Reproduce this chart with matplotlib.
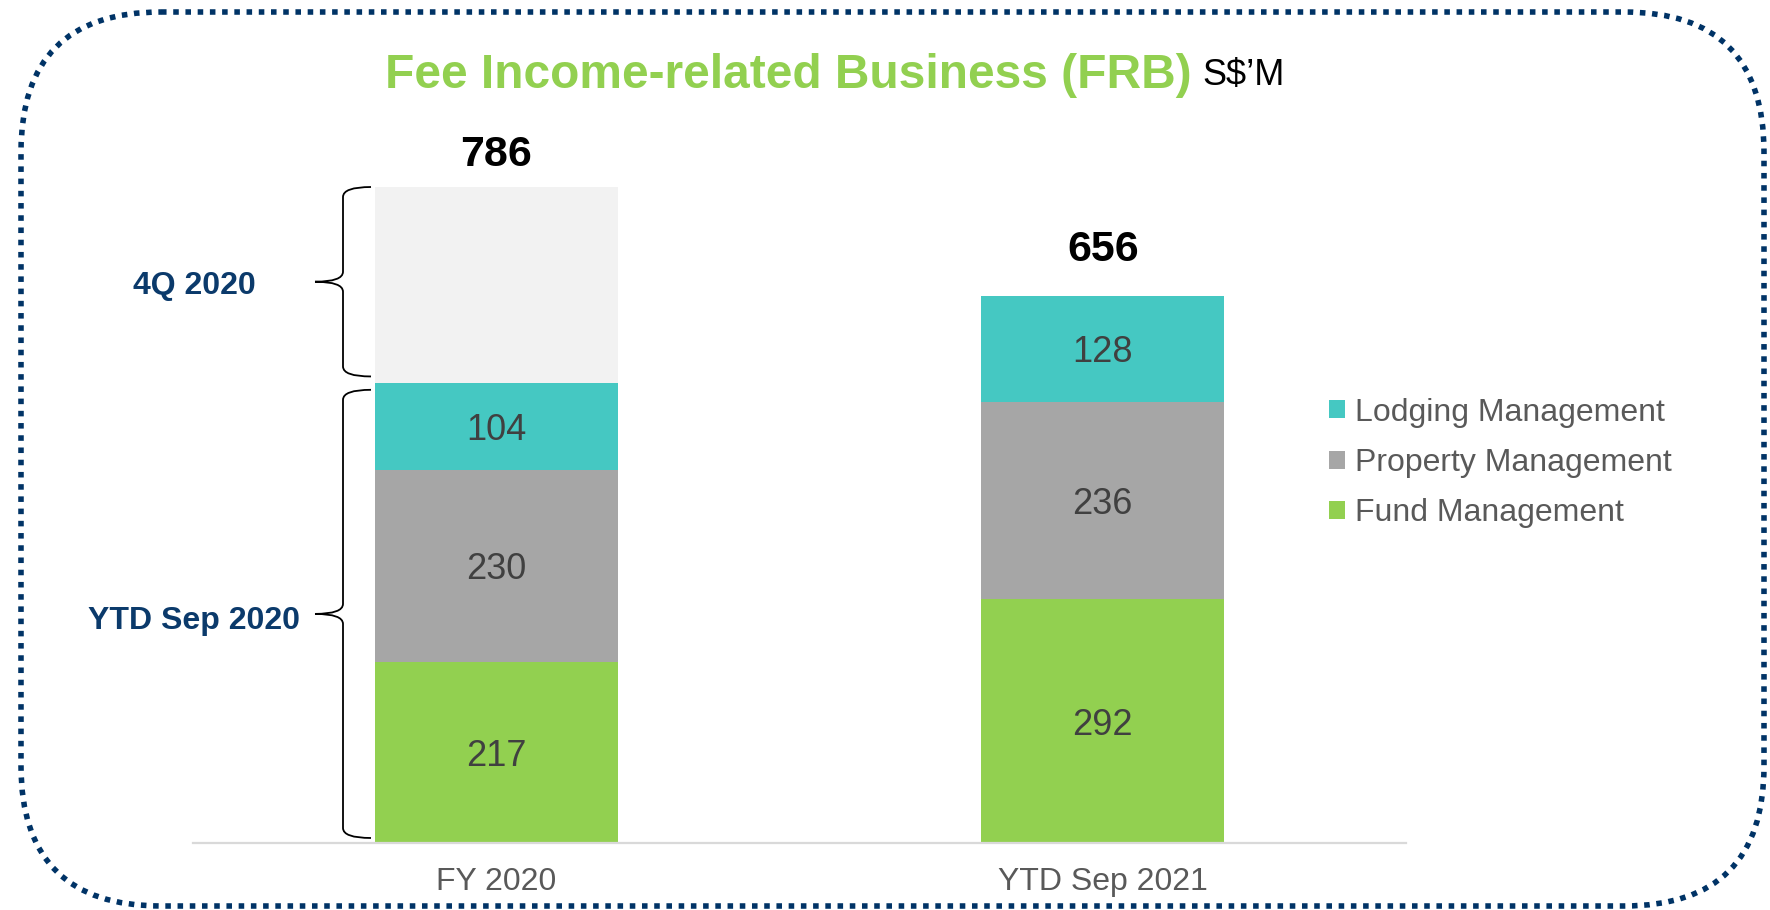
import matplotlib.pyplot as plt
from matplotlib.patches import FancyBboxPatch, Patch
from matplotlib.path import Path
from matplotlib.patches import PathPatch

plt.rcParams['font.family'] = ['Liberation Sans', 'DejaVu Sans']

# data
categories = ['FY 2020', 'YTD Sep 2021']
fund = [217, 292]
prop = [230, 236]
lodging = [104, 128]
q4_2020 = [235, 0]
totals = [786, 656]

c_fund = '#92D050'
c_prop = '#A6A6A6'
c_lodg = '#45C8C2'
c_q4 = '#F2F2F2'
navy = '#0B3A6B'

W, H = 1770, 910
fig = plt.figure(figsize=(W / 100, H / 100), dpi=100)

# background axes in pixel coords (y down)
bg = fig.add_axes([0, 0, 1, 1])
bg.set_xlim(0, W)
bg.set_ylim(H, 0)
bg.axis('off')

border = FancyBboxPatch((21, 12), 1743, 894, boxstyle='round,pad=0,rounding_size=140',
                        fill=False, edgecolor='#003366', linewidth=4.0,
                        linestyle=(0, (1, 1.2)))
bg.add_patch(border)

bg.text(1192, 88, 'Fee Income-related Business (FRB)', color=c_fund, fontsize=34.5,
        fontweight='bold', ha='right', va='baseline')
bg.text(1202, 85, 'S$\u2019M', color='black', fontsize=26, ha='left', va='baseline')

# bar axes
x0_px, x1_px = 193, 1406
base_px = 843
ymax = 900
px_per_unit = 0.8346
ax = fig.add_axes([x0_px / W, (H - base_px) / H, (x1_px - x0_px) / W, ymax * px_per_unit / H])
ax.patch.set_alpha(0)
ax.set_xlim(-0.5, 1.5)
ax.set_ylim(0, ymax)

x = [0, 1]
w = 0.4
ax.bar(x, fund, w, color=c_fund, label='Fund Management')
b1 = [f for f in fund]
ax.bar(x, prop, w, bottom=b1, color=c_prop, label='Property Management')
b2 = [f + p for f, p in zip(fund, prop)]
ax.bar(x, lodging, w, bottom=b2, color=c_lodg, label='Lodging Management')
b3 = [b + l for b, l in zip(b2, lodging)]
ax.bar(x, q4_2020, w, bottom=b3, color=c_q4)

for i in range(2):
    for val, bot in ((fund[i], 0), (prop[i], b1[i]), (lodging[i], b2[i])):
        ax.text(x[i], bot + val / 2, str(val), ha='center', va='center_baseline',
                fontsize=26, color='#404040')

top_off = [37, 50]
for i in range(2):
    ax.annotate(str(totals[i]), (x[i], totals[i]), xytext=(0, top_off[i] * 0.72),
                textcoords='offset points', ha='center', va='center_baseline',
                fontsize=31, fontweight='bold', color='black')

for s in ['top', 'left', 'right']:
    ax.spines[s].set_visible(False)
ax.spines['bottom'].set_color('#D9D9D9')
ax.spines['bottom'].set_linewidth(1.6)
ax.set_yticks([])
ax.set_xticks(x)
ax.set_xticklabels(categories, fontsize=23, color='#595959')
ax.tick_params(axis='x', length=0, pad=17)


# curly braces
def px2x(px):
    return (px - x0_px) / (x1_px - x0_px) * 2.0 - 0.5


def brace(y0, y1, label, dy):
    xr, xm, xt = px2x(371), px2x(343), px2x(315)
    r = 10 / px_per_unit
    ym = (y0 + y1) / 2
    verts = [(xr, y1), (xm, y1), (xm, y1 - r),
             (xm, ym + r), (xm, ym), (xt, ym),
             (xm, ym), (xm, ym - r),
             (xm, y0 + r), (xm, y0), (xr, y0)]
    codes = [Path.MOVETO, Path.CURVE3, Path.CURVE3,
             Path.LINETO, Path.CURVE3, Path.CURVE3,
             Path.CURVE3, Path.CURVE3,
             Path.LINETO, Path.CURVE3, Path.CURVE3]
    ax.add_patch(PathPatch(Path(verts, codes), fill=False, lw=1.3, edgecolor='black',
                           clip_on=False))
    ax.text(px2x(194), ym + dy, label, ha='center', va='center_baseline', fontsize=23,
            fontweight='bold', color=navy, clip_on=False)


ytd_2020 = fund[0] + prop[0] + lodging[0]
brace(ytd_2020 + 8, totals[0], '4Q 2020', -1)
brace(6, ytd_2020 - 8, 'YTD Sep 2020', -4)

# legend
h, l = ax.get_legend_handles_labels()
leg = fig.legend(h[::-1], l[::-1], loc='center left', bbox_to_anchor=(1329 / W, 1 - 463 / H),
                 frameon=False, fontsize=23, handlelength=0.5, handleheight=0.5,
                 handletextpad=0.3, labelspacing=0.64, borderaxespad=0, borderpad=0)
for t in leg.get_texts():
    t.set_color('#595959')

fig.savefig('out.png', dpi=100)
